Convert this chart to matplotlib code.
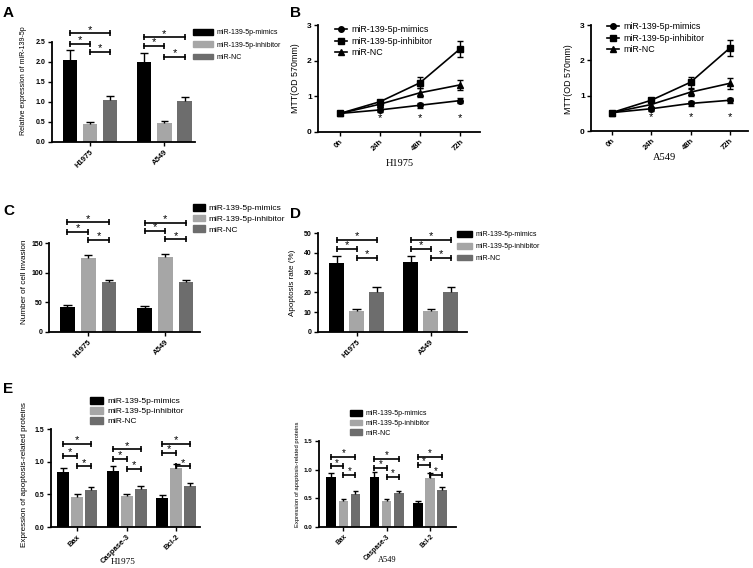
import matplotlib
matplotlib.use('Agg')
import matplotlib.pyplot as plt
from matplotlib.patches import Patch
import numpy as np

plt.rcParams['font.family'] = ['Liberation Sans', 'DejaVu Sans']

W, H = 753, 568

series = ['miR-139-5p-mimics', 'miR-139-5p-inhibitor', 'miR-NC']
bar_colors = ['#000000', '#a6a6a6', '#6d6d6d']
cell_lines = ['H1975', 'A549']
proteins = ['Bax', 'Caspase-3', 'Bcl-2']
hours = ['0h', '24h', '48h', '72h']

# rows = series (mimics, inhibitor, NC), columns = categories
a_mean = [[2.05, 2.00], [0.45, 0.47], [1.05, 1.03]]
a_err = [[0.25, 0.23], [0.04, 0.05], [0.10, 0.09]]
# bracket heights: mimics-NC, mimics-inhibitor, inhibitor-NC
a_brk = [[2.72, 2.62], [2.45, 2.40], [2.25, 2.13]]

b1_mean = [[0.52, 0.62, 0.75, 0.88], [0.52, 0.85, 1.38, 2.33], [0.52, 0.78, 1.10, 1.32]]
b1_err = [[0.04, 0.05, 0.07, 0.08], [0.04, 0.06, 0.15, 0.22], [0.04, 0.06, 0.12, 0.14]]
b2_mean = [[0.52, 0.63, 0.78, 0.87], [0.52, 0.87, 1.38, 2.35], [0.52, 0.75, 1.10, 1.35]]
b2_err = [[0.04, 0.05, 0.06, 0.07], [0.04, 0.06, 0.15, 0.22], [0.04, 0.07, 0.10, 0.15]]
b_star = [0.38, 0.38, 0.38]   # at 24h, 48h, 72h

c_mean = [[42, 41], [125, 126], [84, 85]]
c_err = [[3, 2], [5, 5], [3, 3]]
c_brk = [[185, 184], [169, 170], [155, 156]]

d_mean = [[35.0, 35.3], [10.5, 10.5], [20.3, 20.3]]
d_err = [[3.5, 3.3], [1.0, 1.0], [2.3, 2.2]]
d_brk = [[46.5, 46.5], [42.0, 42.0], [37.5, 37.5]]

e1_mean = [[0.84, 0.86, 0.45], [0.46, 0.47, 0.90], [0.57, 0.58, 0.63]]
e1_err = [[0.06, 0.07, 0.04], [0.05, 0.04, 0.07], [0.04, 0.05, 0.05]]
e1_brk = [[1.27, 1.19, 1.27], [1.09, 1.04, 1.13], [0.93, 0.89, 0.93]]

e2_mean = [[0.88, 0.88, 0.42], [0.45, 0.45, 0.86], [0.57, 0.59, 0.64]]
e2_err = [[0.07, 0.08, 0.03], [0.04, 0.04, 0.08], [0.05, 0.04, 0.06]]
e2_brk = [[1.22, 1.19, 1.22], [1.06, 1.03, 1.08], [0.91, 0.87, 0.91]]

fig = plt.figure(figsize=(W / 100, H / 100), dpi=100)


def px_axes(l, t, r, b):
    ax = fig.add_axes([l / W, 1 - b / H, (r - l) / W, (b - t) / H])
    ax.spines[['top', 'right']].set_visible(False)
    ax.spines[['left', 'bottom']].set_linewidth(1.3)
    ax.tick_params(direction='out', width=1, length=3, pad=1.5)
    return ax


def style_ticks(ax, labels, fs_tick, fs_x):
    ax.set_xticklabels(labels, rotation=45, ha='right', rotation_mode='anchor',
                       fontsize=fs_x, fontweight='bold')
    for t in ax.get_yticklabels():
        t.set_fontsize(fs_tick)
        t.set_fontweight('bold')


def set_ylabel(ax, box, text, x_px, y_px, fs):
    l, t, r, b = box
    ax.set_ylabel(text, fontsize=fs)
    ax.yaxis.set_label_coords((x_px - l) / (r - l), (b - y_px) / (b - t))


def bar_legend(ax, x_px, y_px, fs, hl, hh, ls):
    handles = [Patch(color=c) for c in bar_colors]
    ax.legend(handles, series, loc='upper left', bbox_to_anchor=(x_px / W, 1 - y_px / H),
              bbox_transform=fig.transFigure, frameon=False, fontsize=fs,
              handlelength=hl, handleheight=hh, labelspacing=ls, handletextpad=0.5,
              borderpad=0, borderaxespad=0)


def bar_panel(box, cats, mean, err, brk, ylim, yticks, step, width, xlim,
              fs_tick=5, fs_x=5.5, ms=5, fs_star=8):
    ax = px_axes(*box)
    x = np.arange(len(cats))
    for i in range(3):
        xs = x + (i - 1) * step
        ax.bar(xs, mean[i], width, color=bar_colors[i], zorder=2)
        tops = np.array(mean[i]) + np.array(err[i])
        ax.vlines(xs, mean[i], tops, color='k', lw=1, zorder=3)
        ax.hlines(tops, xs - width * 0.28, xs + width * 0.28, color='k', lw=1, zorder=3)
    pairs = [(0, 2), (0, 1), (1, 2)]
    for (p, q), heights in zip(pairs, brk):
        for xi, h in zip(x, heights):
            x1, x2 = xi + (p - 1) * step, xi + (q - 1) * step
            ax.plot([x1, x2], [h, h], color='k', lw=1.2, marker='|', ms=ms, mew=1.2,
                    clip_on=False)
            ax.annotate('*', ((x1 + x2) / 2, h), xytext=(0, -1), textcoords='offset points',
                        ha='center', va='bottom', fontsize=fs_star, annotation_clip=False)
    ax.set_xlim(*xlim)
    ax.set_ylim(*ylim)
    ax.set_xticks(x)
    ax.set_yticks(yticks)
    style_ticks(ax, cats, fs_tick, fs_x)
    return ax


def line_panel(box, mean, err, xlim):
    ax = px_axes(*box)
    x = np.arange(len(hours))
    markers = ['o', 's', '^']
    handles = []
    for i in range(3):
        cont = ax.errorbar(x, mean[i], yerr=err[i], color='k', marker=markers[i], ms=4,
                           lw=1.2, elinewidth=1, capsize=2.5, clip_on=False)
        handles.append(cont[0])
    for xi, sy in zip(x[1:], b_star):
        ax.text(xi, sy, '*', ha='center', va='center', fontsize=8)
    ax.set_xlim(*xlim)
    ax.set_ylim(0, 3)
    ax.set_xticks(x)
    ax.set_yticks([0, 1, 2, 3])
    style_ticks(ax, hours, 6, 5.5)
    return ax, handles


def line_legend(ax, handles, x_px, y_px):
    ax.legend(handles, series, loc='upper left', bbox_to_anchor=(x_px / W, 1 - y_px / H),
              bbox_transform=fig.transFigure, frameon=False, fontsize=6.4,
              handlelength=1.4, labelspacing=0.3, handletextpad=0.5,
              borderpad=0, borderaxespad=0)


# ---- A ----
box = (52, 42, 195, 142)
ax = bar_panel(box, cell_lines, a_mean, a_err, a_brk, (0, 2.5), [0, 0.5, 1.0, 1.5, 2.0, 2.5],
               0.27, 0.19, (-0.51, 1.41))
set_ylabel(ax, box, 'Relative expression of miR-139-5p', 27, 81, 5)
bar_legend(ax, 193, 29, 5, 2.9, 0.9, 0.72)

# ---- B ----
box = (318, 25, 480, 132)
ax, hs = line_panel(box, b1_mean, b1_err, (-0.55, 3.5))
set_ylabel(ax, box, 'MTT(OD 570mm)', 300, 78, 6.4)
line_legend(ax, hs, 335, 25)
fig.text(400 / W, 1 - 163 / H, 'H1975', family='Liberation Serif', fontsize=7.5,
         ha='center', va='center')

box = (591, 25, 748, 131)
ax, hs = line_panel(box, b2_mean, b2_err, (-0.53, 3.46))
set_ylabel(ax, box, 'MTT(OD 570mm)', 573, 79, 6.4)
line_legend(ax, hs, 607, 22)
fig.text(665 / W, 1 - 158 / H, 'A549', family='Liberation Serif', fontsize=7.5,
         ha='center', va='center')

# ---- C ----
box = (49, 243, 200, 332)
ax = bar_panel(box, cell_lines, c_mean, c_err, c_brk, (0, 150), [0, 50, 100, 150],
               0.27, 0.19, (-0.51, 1.45))
set_ylabel(ax, box, 'Number of cell invasion', 28, 282, 5.9)
bar_legend(ax, 193, 204, 6, 1.4, 0.85, 0.3)

# ---- D ----
box = (318, 233, 467, 332)
ax = bar_panel(box, cell_lines, d_mean, d_err, d_brk, (0, 50), [0, 10, 20, 30, 40, 50],
               0.27, 0.2, (-0.52, 1.49))
set_ylabel(ax, box, 'Apoptosis rate (%)', 296, 283, 5.8)
bar_legend(ax, 457, 231, 5, 2.2, 0.9, 0.65)

# ---- E ----
box = (51, 429, 200, 527)
ax = bar_panel(box, proteins, e1_mean, e1_err, e1_brk, (0, 1.5), [0, 0.5, 1.0, 1.5],
               0.28, 0.24, (-0.53, 2.48))
set_ylabel(ax, box, 'Expression of apoptosis-related proteins', 28, 475, 5.85)
bar_legend(ax, 90, 397, 6, 1.6, 0.85, 0.23)
fig.text(123 / W, 1 - 562 / H, 'H1975', family='Liberation Serif', fontsize=6.6,
         ha='center', va='center')

box = (319, 441, 456, 527)
ax = bar_panel(box, proteins, e2_mean, e2_err, e2_brk, (0, 1.5), [0, 0.5, 1.0, 1.5],
               0.28, 0.22, (-0.56, 2.6), fs_tick=4.5, fs_x=4.8, ms=4, fs_star=7)
set_ylabel(ax, box, 'Expression of apoptosis-related proteins', 300, 474, 4.2)
bar_legend(ax, 350, 410, 5, 1.7, 0.85, 0.36)
fig.text(387 / W, 1 - 560 / H, 'A549', family='Liberation Serif', fontsize=6,
         ha='center', va='center')

# panel letters
for letter, lx, ly in [('A', 3, 6), ('B', 290, 6), ('C', 3, 204), ('D', 290, 207), ('E', 3, 382)]:
    fig.text(lx / W, 1 - ly / H, letter, fontsize=11, fontweight='bold', va='top')

fig.savefig('out.png', dpi=100)
